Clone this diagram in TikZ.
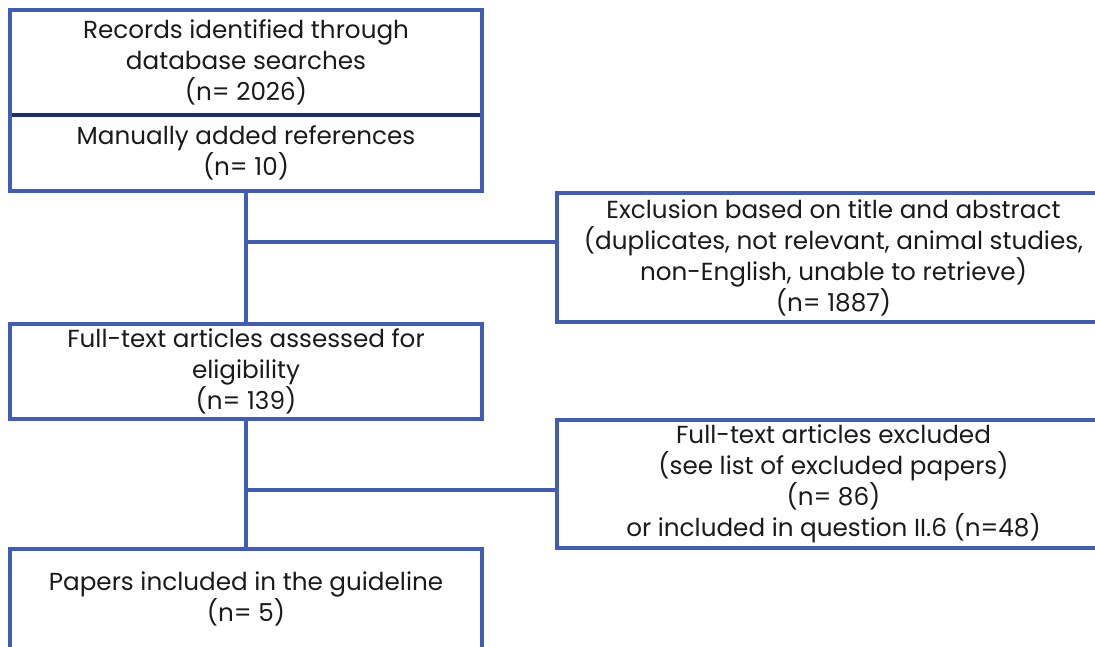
\documentclass[tikz,border=0pt]{standalone}
\usepackage{fontspec}
\setmainfont{Poppins}
\definecolor{frameblue}{HTML}{3F5CB8}
\definecolor{dividernavy}{HTML}{1B2E78}
\definecolor{inktext}{HTML}{1A1A1A}
\begin{document}
\begin{tikzpicture}[x=0.75pt,y=-0.75pt,
  every node/.style={inner sep=0pt, outer sep=0pt},
  boxtext/.style={align=center, text=inktext,
    font=\fontsize{18.5}{23.25}\selectfont},
  framebox/.style={boxtext, draw=frameblue, line width=3pt},
  link/.style={draw=frameblue, line width=3pt}]
  \useasboundingbox (0,0) rectangle (1095,646);
  \clip (0,0) rectangle (1095,646);

  % identification box, split in two halves
  \node[boxtext, minimum width=472*0.75pt, minimum height=105*0.75pt] (recA) at (246,62.5)
    {Records identified through\\database searches\\(n= 2026)};
  \node[boxtext, minimum width=472*0.75pt, minimum height=76*0.75pt] (recB) at (246,153)
    {Manually added references\\(n= 10)};
  \draw[dividernavy, line width=3pt] (recA.south west) -- (recA.south east);
  \draw[frameblue, line width=3pt] (recA.north west) rectangle (recB.south east);

  % screening exclusions (open to the right)
  \node[framebox, minimum width=553*0.75pt, minimum height=129*0.75pt] (excl1) at (833.5,257.5)
    {Exclusion based on title and abstract\\(duplicates, not relevant, animal studies,\\non-English, unable to retrieve)\\(n= 1887)};

  % eligibility
  \node[framebox, minimum width=472*0.75pt, minimum height=95*0.75pt] (full) at (246,371.5)
    {Full-text articles assessed for\\eligibility\\(n= 139)};

  \node[framebox, minimum width=553*0.75pt, minimum height=128*0.75pt] (excl2) at (833.5,484)
    {Full-text articles excluded\\(see list of excluded papers)\\(n= 86)\\or included in question II.6 (n=48)};

  % included
  \node[framebox, minimum width=472*0.75pt, minimum height=100*0.75pt] (incl) at (246,599)
    {Papers included in the guideline\\(n= 5)};

  % connectors
  \coordinate (j1) at (246,242);
  \coordinate (j2) at (246,490);
  \draw[link] (recB.south) -- (full.north);
  \draw[link] (j1) -- (j1 -| excl1.west);
  \draw[link] (full.south) -- (incl.north);
  \draw[link] (j2) -- (j2 -| excl2.west);
\end{tikzpicture}
\end{document}
